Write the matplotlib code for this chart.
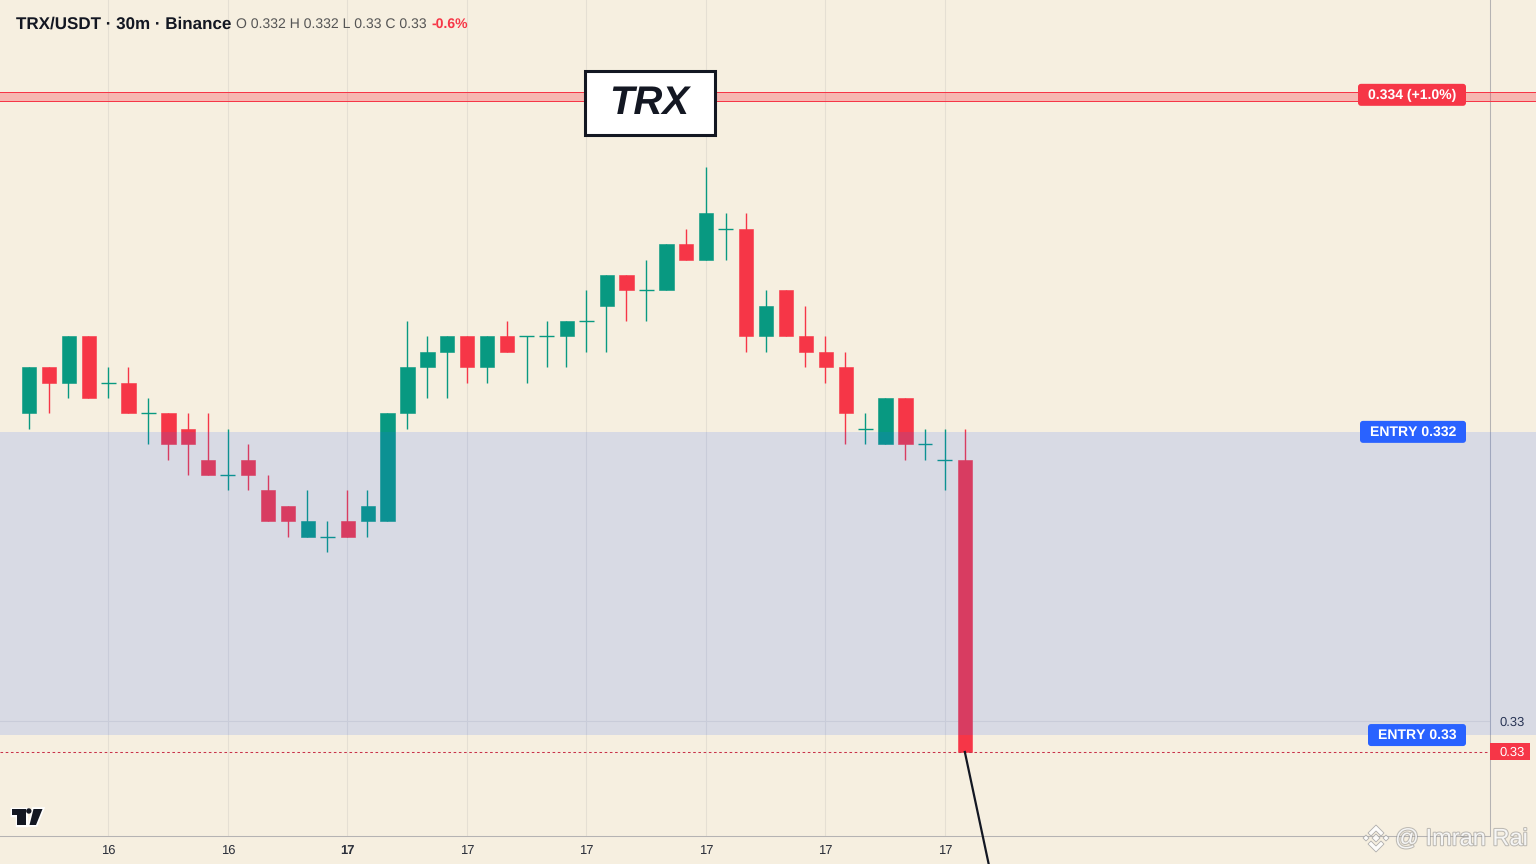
import matplotlib
matplotlib.use("Agg")
import matplotlib.pyplot as plt
from matplotlib.patches import FancyBboxPatch, Polygon, Circle, Rectangle
from matplotlib.transforms import IdentityTransform
import matplotlib.patheffects as pe

plt.rcParams['font.family'] = ['Liberation Sans', 'DejaVu Sans']
plt.rcParams['text.hinting'] = 'none'
plt.rcParams['text.hinting_factor'] = 1

# OHLC prices
opens = [.3320,.3323,.3322,.3325,.3322,.3322,.3320,.3320,.3319,.3317,.3316,.3317,.3315,.3314,.3312,.3312,.3313,.3313,.3313,.3320,
         .3323,.3324,.3325,.3323,.3325,.3325,.3325,.3325,.3326,.3327,.3329,.3328,.3328,.3331,.3330,.3332,.3332,.3325,.3328,.3325,
         .3324,.3323,.3319,.3318,.3321,.3318,.3317,.3317]
highs = [.3323,.3323,.3325,.3325,.3323,.3323,.3321,.3320,.3320,.3320,.3319,.3318,.3316,.3314,.3315,.3313,.3315,.3315,.3320,.3326,
         .3325,.3325,.3325,.3325,.3326,.3325,.3326,.3326,.3328,.3329,.3329,.3330,.3331,.3332,.3336,.3333,.3333,.3328,.3328,.3327,
         .3325,.3324,.3320,.3321,.3321,.3319,.3319,.3319]
lows  = [.3319,.3320,.3321,.3321,.3321,.3320,.3318,.3317,.3316,.3316,.3315,.3315,.3313,.3312,.3312,.3311,.3312,.3312,.3313,.3319,
         .3321,.3321,.3322,.3322,.3324,.3322,.3323,.3323,.3324,.3324,.3326,.3326,.3328,.3330,.3330,.3330,.3324,.3324,.3325,.3323,
         .3322,.3318,.3318,.3318,.3317,.3317,.3315,.3298]
closes= [.3323,.3322,.3325,.3321,.3322,.3320,.3320,.3318,.3318,.3316,.3316,.3316,.3313,.3313,.3313,.3312,.3312,.3314,.3320,.3323,
         .3324,.3325,.3323,.3325,.3324,.3325,.3325,.3326,.3326,.3329,.3328,.3328,.3331,.3330,.3333,.3332,.3325,.3327,.3325,.3324,
         .3323,.3320,.3319,.3321,.3318,.3318,.3317,.3298]

tick_idx = [4, 10, 16, 22, 28, 34, 40, 46]
tick_labels = ['16', '16', '17', '17', '17', '17', '17', '17']
entry_top, entry_bottom = 0.33188, 0.32991
stop_top, stop_bottom = 0.33409, 0.33403
last_price = 0.3298

BG = '#F6EFE0'; RED = '#F63647'; GREEN = '#089981'; BLUE = '#2962FF'; INK = '#131722'
GRID = '#E5DFD3'; AXIS = '#B5B3B3'

W, H = 1536, 864
fig = plt.figure(figsize=(15.36, 8.64), dpi=100, facecolor=BG)
AXW, AXB = 1490, 836
ax = fig.add_axes([0, (H-AXB)/H, AXW/W, AXB/H], facecolor=BG)
PXB = 19.92
ax.set_xlim(-28.6/PXB, (AXW-28.6)/PXB)
PXN = 15.39
ax.set_ylim(0.33 + (721.2-AXB)/PXN*1e-4, 0.33 + 721.2/PXN*1e-4)

for s in ('top', 'left'):
    ax.spines[s].set_visible(False)
for s in ('right', 'bottom'):
    ax.spines[s].set_color(AXIS); ax.spines[s].set_linewidth(0.75)

ax.set_xticks(tick_idx, tick_labels, fontsize=9, color='#2a2e39')
ax.get_xticklabels()[2].set_fontweight('bold')
ax.yaxis.tick_right()
ax.set_yticks([0.33], ['0.33'], fontsize=9, color='#2a2e39')
ax.tick_params(axis='x', length=0, pad=6)
ax.tick_params(axis='y', length=0, pad=7)
ax.grid(True, color=GRID, lw=0.75)
ax.set_axisbelow(True)

xs = list(range(len(opens)))
for i, o, h, l, c in zip(xs, opens, highs, lows, closes):
    col = GREEN if c >= o else RED
    ax.vlines(i, l, h, color=col, lw=1.0, zorder=2)
    if abs(c - o) < 1e-6:
        ax.hlines(o, i-0.375, i+0.375, color=col, lw=1.0, zorder=2)
    else:
        ax.bar(i + 0.02, abs(c-o), bottom=min(o, c), width=0.715, color=col, ec=col, lw=0.4, zorder=2)

ax.axhspan(entry_bottom, entry_top, xmin=0, xmax=W/AXW, color=BLUE, alpha=0.145, lw=0, clip_on=False, zorder=3)

# stop zone
ax.axhspan(stop_bottom, stop_top, xmin=0, xmax=W/AXW, color=RED, alpha=0.3, lw=0, clip_on=False, zorder=3)
for yy in (stop_bottom, stop_top):
    ax.axhline(yy, xmin=0, xmax=W/AXW, color=RED, lw=0.72, clip_on=False, zorder=3)

ax.axhline(last_price, color='#C9324A', lw=0.75, ls=(0, (2.5, 2.5)), zorder=3)
ax.plot([47, 48.2], [last_price, 0.32907], color=INK, lw=1.6, clip_on=False, zorder=6)

def ypx(price):
    return ax.transData.transform((0, price))[1]

def pill(right, width, price, color, label, height=22, size=10):
    y = ypx(price)
    fig.add_artist(FancyBboxPatch((right-width, y-height/2), width, height,
                                  boxstyle='round,pad=0,rounding_size=3', fc=color, ec='none',
                                  transform=IdentityTransform(), zorder=7))
    fig.text(right-width/2, y-0.5, label, color='white', fontsize=size, fontweight='bold',
             ha='center', va='center', transform=IdentityTransform(), zorder=8)

pill(1466, 108, 0.33407, RED, '0.334 (+1.0%)')
pill(1466, 106, 0.33188, BLUE, 'ENTRY 0.332')
pill(1466, 98, 0.32991, BLUE, 'ENTRY 0.33')

y = ypx(last_price)
fig.add_artist(Rectangle((1490, y-8.5), 40, 17, fc=RED, ec='none', transform=IdentityTransform(), zorder=7))
fig.text(1512, y-0.5, '0.33', color='white', fontsize=9, ha='center', va='center',
         transform=IdentityTransform(), zorder=8)

# header
def t(x, y, s, **k):
    fig.text(x, H-y, s, transform=IdentityTransform(), va='center', zorder=9, **k)

t(16, 24, 'TRX/USDT · 30m · Binance', fontsize=12.2, fontweight='bold', color=INK)
t(236, 24.5, 'O 0.332 H 0.332 L 0.33 C 0.33', fontsize=10.2, color='#555')
t(431, 24.5, '-0.6%', fontsize=10.2, fontweight='bold', color=RED)

# TRX box
fig.add_artist(Rectangle((584.6, H-134.6), 130, 64, fc='white', ec=INK, lw=2.2,
                         transform=IdentityTransform(), zorder=8))
fig.text(649.5, H-103.5, 'TRX', fontsize=29, fontweight='bold', style='italic', color=INK,
         ha='center', va='center', transform=IdentityTransform(), zorder=9)

# logo
halo = [pe.withStroke(linewidth=2.5, foreground='white')]
def poly(points, **k):
    p = Polygon([(a, H-b) for a, b in points], transform=IdentityTransform(), **k)
    fig.add_artist(p)
    return p
poly([(12, 809), (26, 809), (26, 825), (17, 825), (17, 815), (12, 815)], fc=INK, ec='none', zorder=8, path_effects=halo)
poly([(33.5, 809), (42.5, 809), (36, 825), (29.5, 825)], fc=INK, ec='none', zorder=8, path_effects=halo)
c = Circle((28.8, H-811), 2.7, fc=INK, ec='none', transform=IdentityTransform(), zorder=8)
fig.add_artist(c)

# watermark
wm = [pe.withStroke(linewidth=1.5, foreground='#8f8f8f', alpha=0.55)]
fig.text(1395, H-839, '@ Imran Rai', fontsize=17, color='white', alpha=0.85, va='center',
         transform=IdentityTransform(), zorder=9, path_effects=wm)
mark = dict(fc='white', ec='#a0a0a0', lw=0.6, alpha=0.85, zorder=9)
for cx, cy, r in [(1376, 838, 4), (1366, 838, 3), (1386, 838, 3)]:
    poly([(cx-r, cy), (cx, cy-r), (cx+r, cy), (cx, cy+r)], **mark)
poly([(1376, 825), (1384, 833), (1381, 836), (1376, 831), (1371, 836), (1368, 833)], **mark)
poly([(1376, 852), (1384, 844), (1381, 841), (1376, 846), (1371, 841), (1368, 844)], **mark)

fig.savefig('out.png', dpi=100, facecolor=BG)
